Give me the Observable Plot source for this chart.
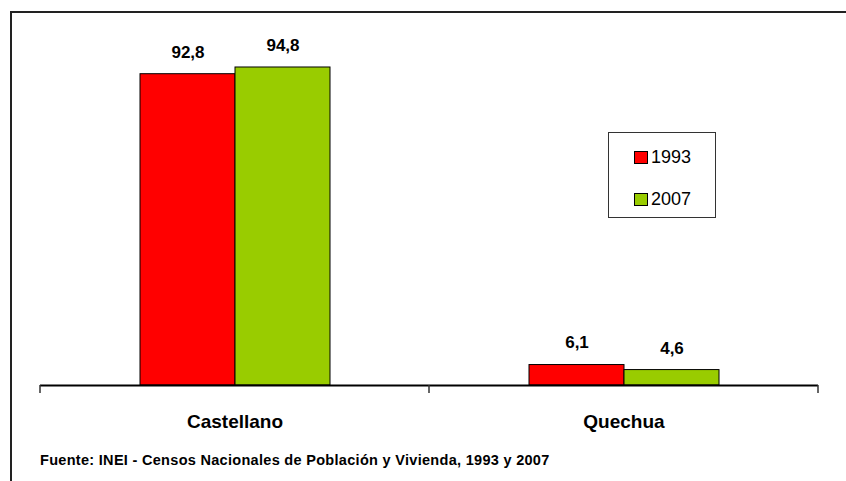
<!DOCTYPE html>
<html><head><meta charset="utf-8">
<script src="https://cdn.jsdelivr.net/npm/d3@7"></script>
<script src="https://cdn.jsdelivr.net/npm/@observablehq/plot@0.6"></script>
<style>
body{margin:0;background:#fff;}
#wrap{position:relative;width:846px;height:481px;overflow:hidden;font-family:"Liberation Sans",Arial,sans-serif;}
#wrap svg{position:absolute;left:0;top:0;}
#frame{position:absolute;left:10px;top:11px;width:900px;height:500px;border-left:2px solid #222;border-top:2px solid #222;}
#legend{position:absolute;left:608px;top:132px;width:106px;height:84px;border:1px solid #333;background:#fff;}
.item{position:absolute;left:25px;height:20px;display:flex;align-items:center;font-size:18px;line-height:20px;color:#000;}
.sw{width:12px;height:11px;border:1px solid #000;margin-right:3px;}
#caption{position:absolute;left:40px;top:453px;font-size:14.5px;letter-spacing:0.3px;line-height:1;font-weight:bold;color:#000;white-space:nowrap;}
</style>
</head><body>
<div id="wrap"><div id="frame"></div></div>
<script>
const categories = ["Castellano", "Quechua"];
const years = ["1993", "2007"];
const values1993 = [92.8, 6.1];
const values2007 = [94.8, 4.6];
const colors = ["#ff0000", "#99cc00"];
const caption = "Fuente: INEI - Censos Nacionales de Población y Vivienda, 1993 y 2007";

const table = [];
categories.forEach((c, i) => {
  table.push({category: c, year: years[0], value: values1993[i]});
  table.push({category: c, year: years[1], value: values2007[i]});
});
const fmt = v => String(v).replace(".", ",");
const font = "'Liberation Sans',Arial,sans-serif";

const chart = Plot.plot({
  width: 846, height: 481,
  marginLeft: 40, marginRight: 28, marginTop: 16, marginBottom: 96,
  style: {background: "transparent", fontFamily: font, overflow: "visible"},
  fx: {domain: categories, paddingInner: 0, paddingOuter: 0, axis: null},
  x: {domain: years, paddingInner: 0, paddingOuter: 1.047, axis: null},
  y: {domain: [0, 110], axis: null},
  color: {domain: years, range: colors},
  marks: [
    Plot.barY(table, {fx: "category", x: "year", y: "value", fill: "year", stroke: "#000", strokeWidth: 1}),
    Plot.text(table, {fx: "category", x: "year", y: "value", text: d => fmt(d.value), dy: -22, fontSize: 17, fontWeight: "bold", fill: "#000"}),
    Plot.text(categories, {fx: d => d, text: d => d, frameAnchor: "bottom", dy: 42, fontSize: 19, fontWeight: "bold", fill: "#000"}),
    Plot.ruleY([0], {stroke: "#000", strokeWidth: 2})
  ]
});
const wrap = document.getElementById("wrap");
wrap.appendChild(chart);

// tick marks at category boundaries, from the fx scale
const fx = chart.scale("fx");
const y = chart.scale("y");
const y0 = y.apply(0);
const bounds = categories.map(c => fx.apply(c)).concat([fx.apply(categories[categories.length - 1]) + fx.bandwidth]);
const svg = d3.select(chart);
svg.append("g").selectAll("line").data(bounds).join("line")
  .attr("x1", d => d).attr("x2", d => d)
  .attr("y1", y0).attr("y2", y0 + 8)
  .attr("stroke", "#333").attr("stroke-width", 1.5);

// legend
const legend = document.createElement("div");
legend.id = "legend";
const color = chart.scale("color");
years.forEach((yr, i) => {
  const it = document.createElement("div");
  it.className = "item";
  it.style.top = (14 + i * 42) + "px";
  const sw = document.createElement("div");
  sw.className = "sw";
  sw.style.background = color.apply(yr);
  it.appendChild(sw);
  it.appendChild(document.createTextNode(yr));
  legend.appendChild(it);
});
wrap.appendChild(legend);

const cap = document.createElement("div");
cap.id = "caption";
cap.textContent = caption;
wrap.appendChild(cap);
</script>
</body></html>
